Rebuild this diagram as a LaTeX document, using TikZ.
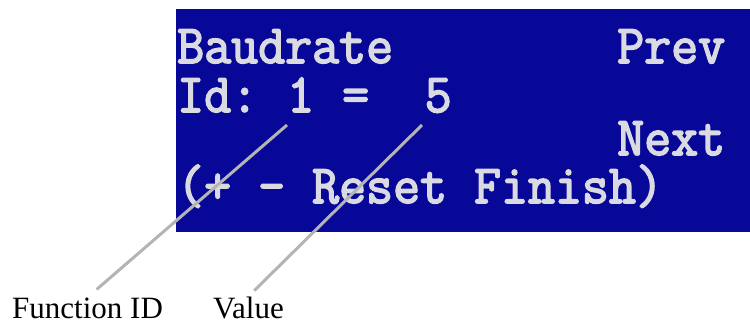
\documentclass[tikz,border=0pt]{standalone}
\usepackage{fontspec}
\usepackage{graphicx}
\setmainfont{Liberation Serif}
\newfontfamily\lcdfont{Latin Modern Mono}[FakeBold=3]
\usetikzlibrary{positioning}
\definecolor{lcdblue}{RGB}{8,8,152}
\definecolor{lcdtext}{RGB}{218,218,226}
\definecolor{leadgray}{RGB}{180,180,180}
\newcommand{\lcdtxt}[1]{\scalebox{1}[1.05]{#1}}
\tikzset{
  lcd/.style={font=\lcdfont\fontsize{52.4pt}{56pt}\selectfont, text=lcdtext, anchor=base west, inner sep=0pt, text depth=0pt},
  callout/.style={font=\fontsize{31pt}{34pt}\selectfont, anchor=base west, inner sep=0pt, text depth=0pt},
  leader/.style={draw=leadgray, line width=3pt}
}

\begin{document}
\begin{tikzpicture}[x=1pt, y=-1pt]
  \path[use as bounding box] (0,0) rectangle (750,322);
  % screen
  \fill[lcdblue] (176,9) rectangle (750,232);
  \node[lcd] (baud) at (177,63) {\lcdtxt{Baudrate}};
  \node[lcd] (prev) at (617,63) {\lcdtxt{Prev}};
  \node[lcd] (idkey) at (177,112) {\lcdtxt{Id:}};
  \node[lcd] (idnum) at (287,112) {\lcdtxt{1}};
  \node[lcd] (eqsign) at (342,112) {\lcdtxt{=}};
  \node[lcd] (idval) at (424.5,112) {\lcdtxt{5}};
  \node[lcd] (next) at (617,155) {\lcdtxt{Next}};
  \node[lcd] (keys) at (177,203) {\lcdtxt{(+ - Reset Finish)}};
  % callouts
  \node[callout] (funcid) at (12,318) {Function ID};
  \node[callout] (valuelbl) at (213,318) {Value};
  \coordinate (idtip) at (287,125);
  \coordinate (valtip) at (422,125);
  \draw[leader, shorten <=12pt] (funcid.north) -- (idtip);
  \draw[leader, shorten <=8pt] (valuelbl.north) -- (valtip);
\end{tikzpicture}
\end{document}
